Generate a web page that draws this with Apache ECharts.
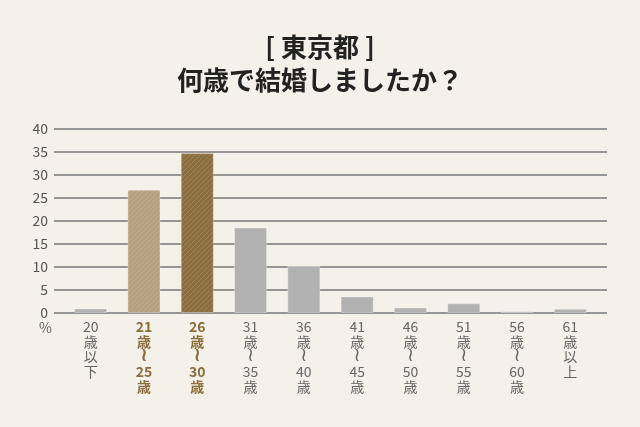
<!DOCTYPE html>
<html><head><meta charset="utf-8">
<script src="https://cdn.jsdelivr.net/npm/echarts@6/dist/echarts.min.js"></script>
<style>html,body{margin:0;padding:0;background:#f4f0ea;}#c{width:640px;height:427px;}</style>
</head><body><div id="c"></div>
<script>
const categories = ['20\n歳\n以\n下','21\n歳\n≀\n25\n歳','26\n歳\n≀\n30\n歳','31\n歳\n≀\n35\n歳','36\n歳\n≀\n40\n歳','41\n歳\n≀\n45\n歳','46\n歳\n≀\n50\n歳','51\n歳\n≀\n55\n歳','56\n歳\n≀\n60\n歳','61\n歳\n以\n上'];
const values = [1.0, 26.8, 34.8, 18.6, 10.3, 3.6, 1.2, 2.1, 0.4, 0.9];
const highlighted = [1, 2];
const barColors = ['#b2b2b2','#b5a17f','#8c6f3e','#b2b2b2','#b2b2b2','#b2b2b2','#b2b2b2','#b2b2b2','#b2b2b2','#b2b2b2'];
const titleLines = ['[ 東京都 ]', '何歳で結婚しましたか？'];
const yTicks = { min: 0, max: 40, interval: 5 };

function hatch(base) {
  const s = 5, c = document.createElement('canvas');
  c.width = s; c.height = s;
  const g = c.getContext('2d');
  g.fillStyle = base; g.fillRect(0, 0, s, s);
  g.strokeStyle = 'rgba(255,255,255,0.14)'; g.lineWidth = 1;
  g.beginPath();
  g.moveTo(-1, s + 1); g.lineTo(s + 1, -1);
  g.moveTo(-1, 1); g.lineTo(1, -1);
  g.moveTo(s - 1, s + 1); g.lineTo(s + 1, s - 1);
  g.stroke();
  return { image: c, repeat: 'repeat' };
}

const chart = echarts.init(document.getElementById('c'), null, {renderer:'canvas'});
const font = '"Noto Sans CJK JP", "Noto Sans", sans-serif';
const waveFont = '"DejaVu Sans", sans-serif';
function fmtLabel(v, i) {
  const hi = highlighted.includes(i);
  return v.split('\n').map(s => {
    if (s === '≀') return hi ? '{hw|≀}' : '{w|≀}';
    return hi ? '{h|' + s + '}' : s;
  }).join('\n');
}
chart.setOption({
  backgroundColor: '#f4f0ea',
  textStyle: { fontFamily: font },
  title: {
    text: titleLines.join('\n'),
    left: 'center', top: 26,
    textStyle: { fontFamily: font, fontSize: 26, fontWeight: 'bold', color: '#222', lineHeight: 33 }
  },
  grid: [
    { left: 54, right: 33, top: 129, bottom: 114 },
    { left: 64, right: 43, top: 129, bottom: 114 }
  ],
  xAxis: [
    { type: 'category', gridIndex: 0, data: categories, show: false },
    {
      type: 'category', gridIndex: 1, data: categories,
      axisLine: { show: false }, axisTick: { show: false },
      axisLabel: {
        interval: 0, margin: 6,
        formatter: fmtLabel,
        color: '#666', fontSize: 14, lineHeight: 15, fontFamily: font,
        rich: {
          h: { color: '#8b6d3b', fontWeight: 'bold', fontSize: 14, lineHeight: 15, fontFamily: font },
          w: { color: '#666', fontSize: 19, lineHeight: 15, fontFamily: waveFont },
          hw: { color: '#8b6d3b', fontWeight: 'bold', fontSize: 19, lineHeight: 15, fontFamily: waveFont }
        }
      }
    }
  ],
  yAxis: [
    {
      type: 'value', gridIndex: 0, min: yTicks.min, max: yTicks.max, interval: yTicks.interval,
      name: '%', nameLocation: 'start', nameGap: 8,
      nameTextStyle: { color: '#666', fontSize: 14, align: 'right', verticalAlign: 'top', padding: [0, 2, 0, 0] },
      axisLine: { show: false }, axisTick: { show: false },
      axisLabel: { color: '#555', fontSize: 14, margin: 6 },
      splitLine: { lineStyle: { color: '#959595', width: 2 } }
    },
    {
      type: 'value', gridIndex: 1, min: yTicks.min, max: yTicks.max, interval: yTicks.interval,
      show: false, splitLine: { show: false }
    }
  ],
  series: [{
    type: 'bar', xAxisIndex: 1, yAxisIndex: 1, barWidth: '62%',
    data: values.map((v, i) => ({
      value: v,
      itemStyle: {
        color: highlighted.includes(i) ? hatch(barColors[i]) : barColors[i],
        borderColor: 'rgba(255,255,255,0.3)',
        borderWidth: 1
      }
    })),
    silent: true, animation: false
  }],
  animation: false
});
</script></body></html>
